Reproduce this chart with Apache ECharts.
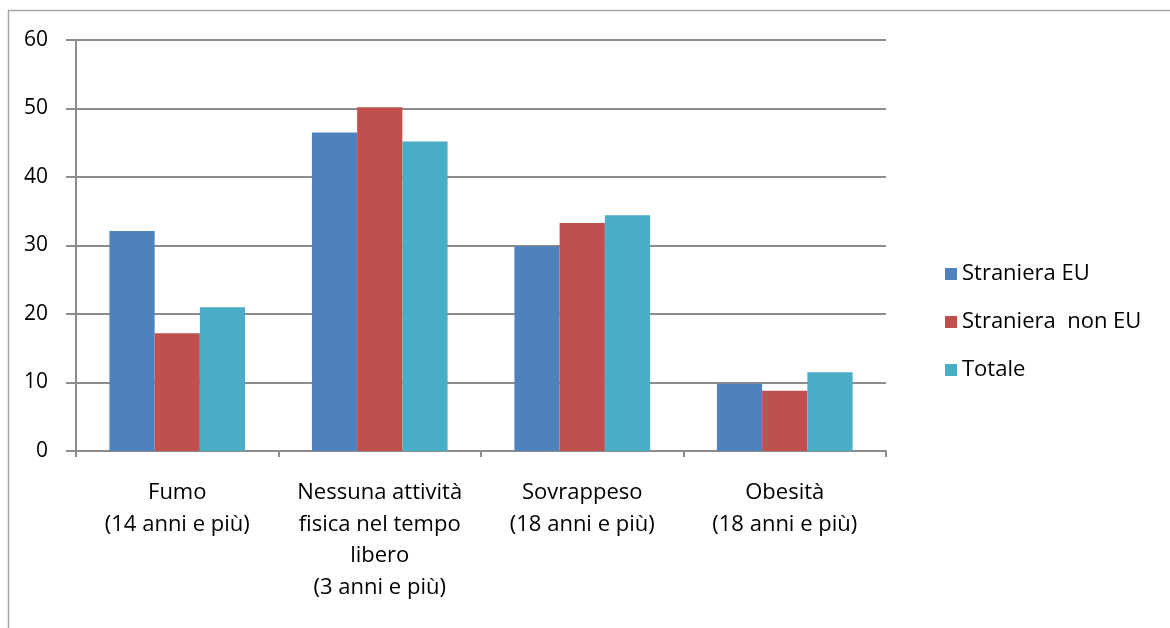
<!DOCTYPE html>
<html>
<head>
<meta charset="utf-8">
<script src="https://cdn.jsdelivr.net/npm/echarts@6/dist/echarts.min.js"></script>
<style>
  html, body { margin: 0; padding: 0; background: #fff; }
  #main { width: 1170px; height: 628px; }
</style>
</head>
<body>
<div id="main"></div>
<script>
// categorie e valori
var categorie = [
    'Fumo\n(14 anni e più)',
    'Nessuna attività\nfisica nel tempo\nlibero\n(3 anni e più)',
    'Sovrappeso\n(18 anni e più)',
    'Obesità\n(18 anni e più)'
];
var serieNomi = ['Straniera EU', 'Straniera  non EU', 'Totale'];
var stranieraEU = [32.1, 46.5, 29.9, 9.8];
var stranieraNonEU = [17.2, 50.2, 33.3, 8.8];
var totale = [21.0, 45.2, 34.4, 11.5];
var colori = ['#4F81BD', '#C0504D', '#4BACC6'];

var myChart = echarts.init(document.getElementById('main'));
var font = "'Open Sans', 'Noto Sans', sans-serif";

var option = {
    animation: false,
    color: colori,
    textStyle: { fontFamily: font },
    //cornice esterna
    graphic: [{
        type: 'rect',
        shape: { x: 8.5, y: 10.5, width: 1170, height: 640 },
        style: { fill: 'none', stroke: '#a6a6a6', lineWidth: 1.5 },
        silent: true
    }],
    grid: { left: 76, right: 284, top: 40, bottom: 177 },
    legend: {
        orient: 'vertical',
        left: 940,
        top: 256,
        itemWidth: 12,
        itemHeight: 12,
        itemGap: 22,
        icon: 'rect',
        data: serieNomi,
        textStyle: { fontSize: 22, lineHeight: 26, color: '#000', fontFamily: font, padding: [0, 0, 0, 0] }
    },
    xAxis: {
        type: 'category',
        data: categorie,
        axisLine: { lineStyle: { color: '#8c8c8c', width: 2 } },
        axisTick: { show: true, length: 6, lineStyle: { color: '#8c8c8c', width: 2 } },
        axisLabel: {
            interval: 0,
            fontSize: 22,
            color: '#000',
            lineHeight: 31.5,
            margin: 26,
            fontFamily: font
        }
    },
    yAxis: {
        type: 'value',
        min: 0,
        max: 60,
        interval: 10,
        axisLine: { show: true, lineStyle: { color: '#8c8c8c', width: 2 } },
        axisTick: { show: true, length: 10, lineStyle: { color: '#8c8c8c', width: 2 } },
        splitLine: { lineStyle: { color: '#8c8c8c', width: 2 } },
        axisLabel: { fontSize: 21, color: '#000', margin: 28, fontFamily: font }
    },
    series: [
        { name: serieNomi[0], type: 'bar', data: stranieraEU, barGap: '0%', barCategoryGap: '33%' },
        { name: serieNomi[1], type: 'bar', data: stranieraNonEU, barGap: '0%', barCategoryGap: '33%' },
        { name: serieNomi[2], type: 'bar', data: totale, barGap: '0%', barCategoryGap: '33%' }
    ]
};

myChart.setOption(option);
</script>
</body>
</html>
